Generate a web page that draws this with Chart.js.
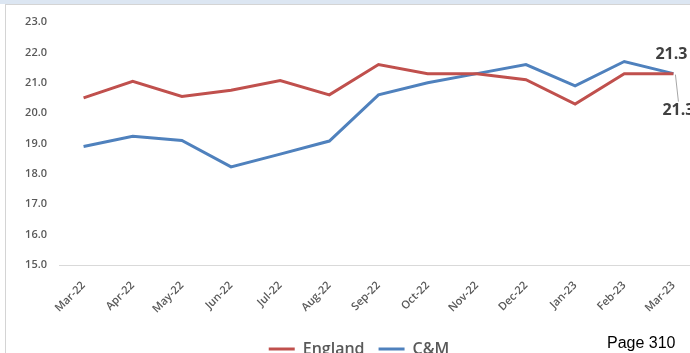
<!DOCTYPE html>
<html>
<head>
<meta charset="utf-8">
<script src="https://cdn.jsdelivr.net/npm/chart.js@4/dist/chart.umd.min.js"></script>
<style>
  html, body { margin: 0; padding: 0; background: #fff; overflow: hidden; width: 690px; height: 353px; }
  #wrap { position: absolute; left: 0; top: 0; width: 720px; height: 367px; }
  #band { position: absolute; left: 0; top: 0; width: 690px; height: 4px; background: #dce6f2; }
  #frameTop { position: absolute; left: 5px; top: 4px; width: 685px; height: 0; border-top: 1px solid #d4d4d4; }
  #frameLeft { position: absolute; left: 5px; top: 4px; width: 0; height: 349px; border-left: 1px solid #d4d4d4; }
  #page { position: absolute; left: 607px; top: 334px; font: 16px "Liberation Sans", Arial, sans-serif; color: #000; line-height: 18px; white-space: nowrap; }
</style>
</head>
<body>
<div id="wrap"><canvas id="chart" width="720" height="367"></canvas></div>
<div id="band"></div>
<div id="frameTop"></div>
<div id="frameLeft"></div>
<div id="page">Page 310</div>
<script>
  var MONTHS = ["Mar-22", "Apr-22", "May-22", "Jun-22", "Jul-22", "Aug-22", "Sep-22",
                "Oct-22", "Nov-22", "Dec-22", "Jan-23", "Feb-23", "Mar-23"];
  var ENGLAND = [20.5, 21.05, 20.55, 20.75, 21.07, 20.6, 21.6, 21.3, 21.3, 21.1, 20.3, 21.3, 21.3];
  var CM = [18.9, 19.24, 19.1, 18.23, 18.65, 19.08, 20.6, 21.0, 21.3, 21.6, 20.9, 21.7, 21.3];
  var Y_MIN = 15, Y_MAX = 23;

  var RED = "#c0504d";
  var BLUE = "#4f81bd";
  var TXT = "#595959";
  var LBL = "#404040";

  // end-of-line value labels (Excel style, one with leader line)
  var endLabels = {
    id: "endLabels",
    afterDatasetsDraw: function (chart) {
      var ctx = chart.ctx;
      var mEng = chart.getDatasetMeta(0), mCm = chart.getDatasetMeta(1);
      var pE = mEng.data[mEng.data.length - 1], pC = mCm.data[mCm.data.length - 1];
      ctx.save();
      ctx.font = "bold 16px 'Open Sans', sans-serif";
      ctx.fillStyle = LBL;
      ctx.textBaseline = "middle";
      ctx.textAlign = "center";
      ctx.fillText(CM[CM.length - 1].toFixed(1), pC.x - 2, pC.y - 19);
      ctx.textAlign = "left";
      ctx.fillText(ENGLAND[ENGLAND.length - 1].toFixed(1), pE.x - 11, pE.y + 37);
      ctx.strokeStyle = "#a6a6a6";
      ctx.lineWidth = 1;
      ctx.beginPath();
      ctx.moveTo(pE.x + 2, pE.y + 1);
      ctx.lineTo(pE.x + 5, pE.y + 28);
      ctx.stroke();
      ctx.restore();
    }
  };

  new Chart(document.getElementById("chart"), {
    type: "line",
    data: {
      labels: MONTHS,
      datasets: [
        { label: "England", data: ENGLAND, borderColor: RED, backgroundColor: RED,
          borderWidth: 3, pointRadius: 0, tension: 0 },
        { label: "C&M", data: CM, borderColor: BLUE, backgroundColor: BLUE,
          borderWidth: 3, pointRadius: 0, tension: 0 }
      ]
    },
    options: {
      responsive: false,
      animation: false,
      layout: { padding: { top: 22, right: 22, left: 20, bottom: 0 } },
      scales: {
        x: {
          offset: true,
          grid: { display: false, drawTicks: false },
          border: { display: true, color: "#d9d9d9", width: 1 },
          ticks: { color: TXT, font: { family: "'Open Sans', sans-serif", size: 11, weight: "600" },
                   minRotation: 45, maxRotation: 45, padding: 14, autoSkip: false },
          afterFit: function (s) { s.height = 62; }
        },
        y: {
          min: Y_MIN, max: Y_MAX,
          grid: { display: false, drawTicks: false },
          border: { display: false },
          ticks: { stepSize: 1, color: TXT, padding: 12,
                   font: { family: "'Open Sans', sans-serif", size: 11, weight: "600" },
                   callback: function (v) { return Number(v).toFixed(1); } },
          afterFit: function (s) { s.width = 39; }
        }
      },
      plugins: {
        tooltip: { enabled: false },
        legend: {
          display: true, position: "bottom",
          labels: { color: TXT, usePointStyle: true, pointStyle: "line", pointStyleWidth: 26,
                    boxHeight: 3, padding: 14,
                    font: { family: "'Open Sans', sans-serif", size: 16, weight: "600" } }
        }
      }
    },
    plugins: [endLabels]
  });
</script>
</body>
</html>
